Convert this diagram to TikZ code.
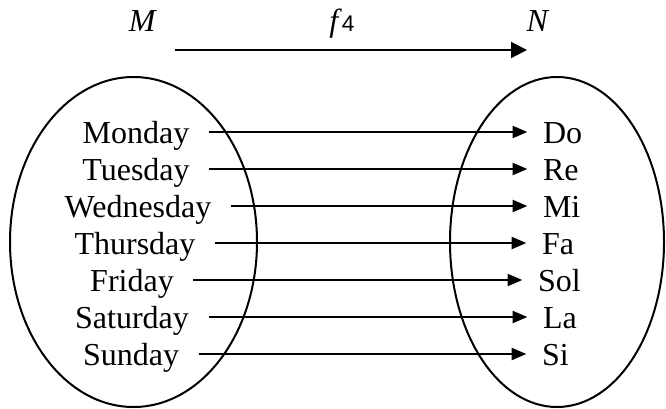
\documentclass[tikz,border=0pt]{standalone}
\usepackage{fontspec}
\setmainfont{Liberation Serif}
\setsansfont{Liberation Sans}
\usetikzlibrary{arrows.meta}

\begin{document}
\begin{tikzpicture}[x=0.75pt, y=0.75pt, line width=1.5pt,
    >={Triangle[length=11pt,width=9pt]},
    every node/.style={font=\fontsize{24}{29}\selectfont},
    day/.style={anchor=base, inner sep=0pt, text height=16.5pt, text depth=0pt},
    note/.style={anchor=base west, inner sep=0pt, text height=16.5pt, text depth=0pt}]
  \useasboundingbox (0,0) rectangle (666,408);

  % the two sets
  \draw (133.5,166) ellipse (123.5 and 165);
  \draw (557,166) ellipse (107 and 165);

  \node[anchor=base] (m) at (143,376) {\textit{M}};
  \node[anchor=base] (n) at (538,376) {\textit{N}};
  \node[anchor=base] (f) at (342,376) {\textit{f}{\sffamily\fontsize{17}{20}\selectfont 4}};
  \coordinate (fa) at (175,358);
  \coordinate (fb) at (527,358);
  \draw[-{Triangle[length=12pt,width=12pt]}] (fa) -- (fb);

  \node[day] (mo) at (136,265) {Monday};
  \node[day] (tu) at (136,228) {Tuesday};
  \node[day] (we) at (138,191) {Wednesday};
  \node[day] (th) at (135,154) {Thursday};
  \node[day] (fr) at (132,117) {Friday};
  \node[day] (sa) at (132,80) {Saturday};
  \node[day] (su) at (131,43) {Sunday};

  \node[note] (do) at (542,265) {Do};
  \node[note] (re) at (542,228) {Re};
  \node[note] (mi) at (542,191) {Mi};
  \node[note] (fa) at (541,154) {Fa};
  \node[note] (sol) at (537,117) {Sol};
  \node[note] (la) at (542,80) {La};
  \node[note] (si) at (541,43) {Si};

  \foreach \from/\to in {mo/do, tu/re, we/mi, th/fa, fr/sol, sa/la, su/si}
    \draw[->, shorten <=14pt, shorten >=11pt] (\from) -- (\to.west);
  %\draw[->] (m) -- (n);
\end{tikzpicture}
\end{document}
